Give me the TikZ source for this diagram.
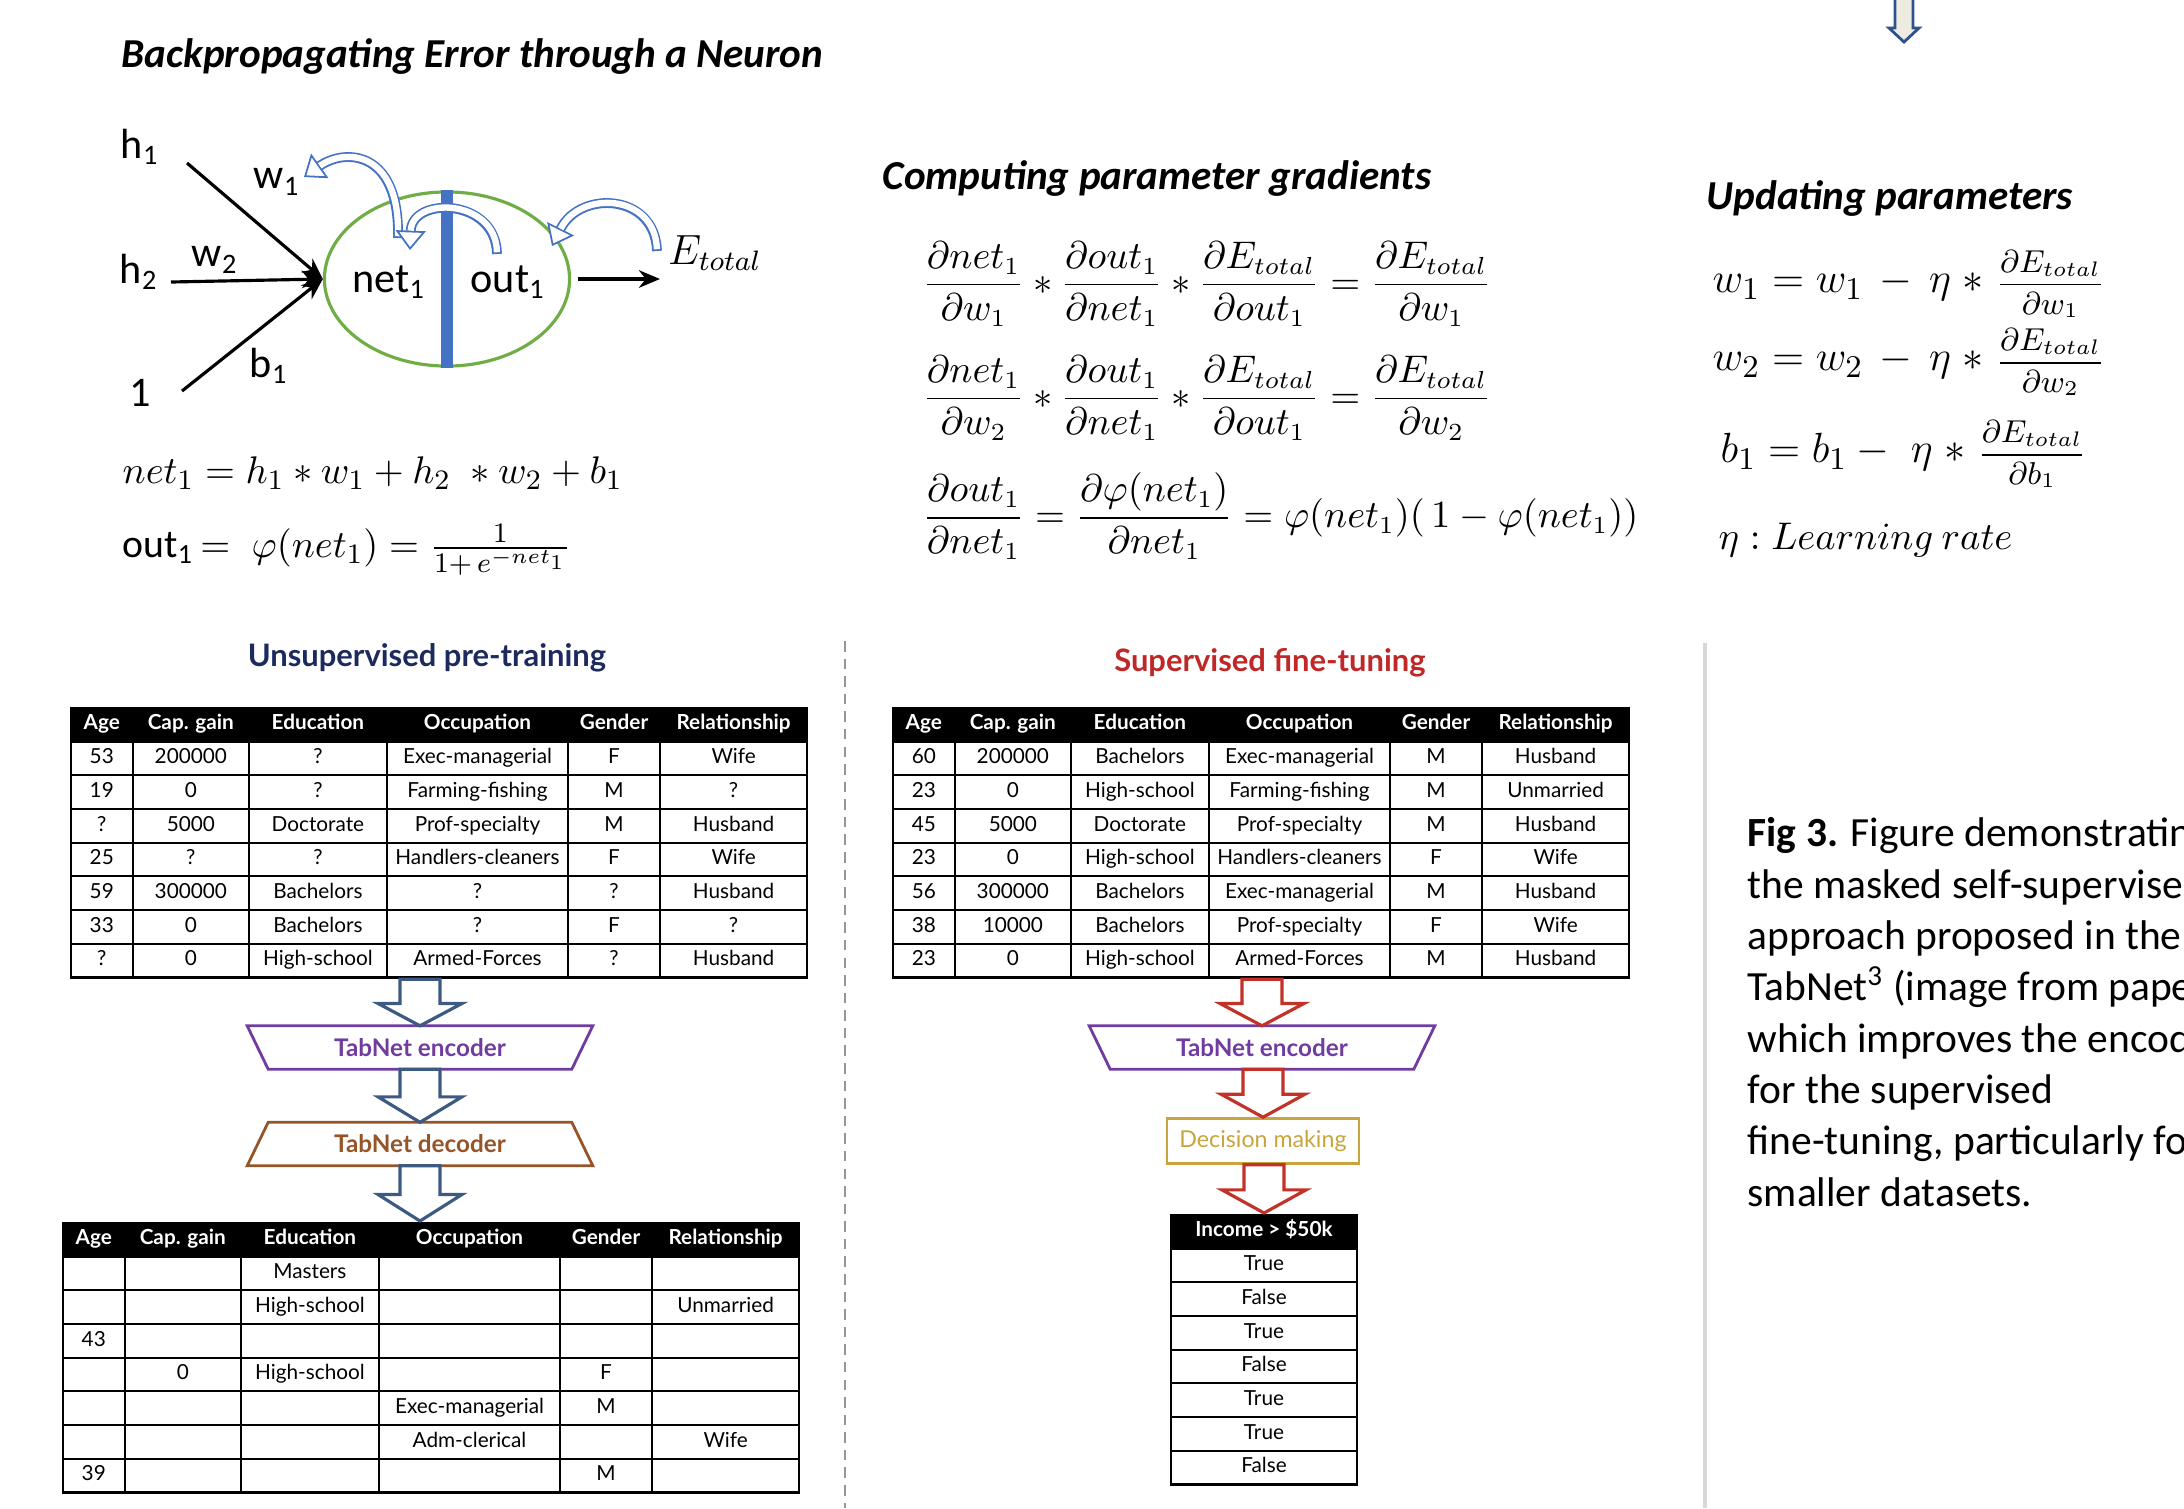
\documentclass[tikz,border=0pt]{standalone}
\usepackage[no-math]{fontspec}
\setmainfont{Carlito}
\newfontfamily\avfont{Lato}
\usepackage{amsmath}
\usepackage{xcolor}
\usepackage{tikz}
\usetikzlibrary{
  arrows.meta,
  positioning,
  calc,
  matrix,
  shapes.geometric
}

\definecolor{arcblue}{RGB}{68,114,196}
\definecolor{ringgreen}{RGB}{112,173,71}
\definecolor{navytitle}{RGB}{28,42,94}
\definecolor{redtitle}{RGB}{192,40,40}
\definecolor{encpurple}{RGB}{112,60,160}
\definecolor{decbrown}{RGB}{150,85,40}
\definecolor{decgold}{RGB}{200,165,60}
\definecolor{slateblue}{RGB}{60,90,130}
\definecolor{arrowred}{RGB}{195,50,40}
\definecolor{topfill}{RGB}{238,236,225}
\definecolor{topline}{RGB}{47,82,143}
\definecolor{sepgrey}{RGB}{150,150,150}
\definecolor{rulegrey}{RGB}{215,215,215}

\newcommand{\lblsize}{\fontsize{12}{14}\selectfont}
\newcommand{\headsize}{\fontsize{11.7}{14}\selectfont}
\newcommand{\eqsize}{\fontsize{10.6}{13}\selectfont}
\newcommand{\tabsize}{\fontsize{5.9}{7}\selectfont}
\newcommand{\smallfrac}[2]{\mbox{\fontsize{8.6}{10}\selectfont$\dfrac{#1}{#2}$}}

% hollow block arrow from node #1 down to node #2
\newcommand{\blockarrow}[3]{%
  \coordinate (bas) at (#2 |- #1);
  \coordinate (bam) at ($(bas)!0.52!(#2)$);
  \draw[blockarr=#3] ($(bas)+(-20,0)$) -- ($(bam)+(-20,0)$) -- ($(bam)+(-42,0)$)
    -- (#2) -- ($(bam)+(42,0)$) -- ($(bam)+(20,0)$) -- ($(bas)+(20,0)$) -- cycle;}

\begin{document}
\begin{tikzpicture}[
    x=0.01cm, y=-0.01cm,
    lbl/.style={font=\lblsize, inner sep=1pt},
    title/.style={font=\headsize\bfseries\itshape, anchor=west, inner sep=0pt},
    eq/.style={font=\eqsize, anchor=west, inner sep=0pt},
    inarrow/.style={line width=0.9pt, -{Stealth[length=6pt, width=5pt]}},
    hollowarc/.style={draw=arcblue, line width=2.8pt,
      -{Triangle[length=5.5pt, width=8.5pt, fill=white, line width=0.5pt]},
      postaction={draw=white, line width=1.8pt, -, shorten >=5.5pt, shorten <=0.5pt}},
    cellbox/.style={draw, line width=0.6pt, inner sep=0.5pt, minimum height=0.337cm,
      text height=4.2pt, text depth=1.2pt, anchor=center, font=\avfont\tabsize},
    headrow/.style={nodes={fill=black, text=white, font=\avfont\bfseries\tabsize}},
    datatable/.style={matrix of nodes, nodes in empty cells, inner sep=0pt,
      column sep=-0.6pt, row sep=-0.6pt, nodes={cellbox},
      column 1/.style={nodes={minimum width=0.62cm}},
      column 2/.style={nodes={minimum width=1.16cm}},
      column 3/.style={nodes={minimum width=1.38cm}},
      column 4/.style={nodes={minimum width=1.81cm}},
      column 5/.style={nodes={minimum width=0.92cm}},
      column 6/.style={nodes={minimum width=1.47cm}},
      row 1/.style={headrow}},
    blockarr/.style={draw=#1, fill=white, line width=0.9pt},
    stagebox/.style={minimum width=3.44cm, minimum height=0.42cm, inner sep=0pt,
      font=\avfont\bfseries\fontsize{6.9}{8}\selectfont}
  ]
  \useasboundingbox (0,0) rectangle (2184,1508);

  % Titulos
  \node[title] (t1) at (121,57) {Backpropagating Error through a Neuron};
  \node[title] (t2) at (882,179) {Computing parameter gradients};
  \node[title] (t3) at (1706,199) {Updating parameters};

  % seta do topo
  \filldraw[fill=topfill, draw=topline, line width=0.8pt]
    (1895,0) -- (1895,28) -- (1889,28) -- (1904,42) -- (1919,28) -- (1913,28) -- (1913,0);

  % Neuronio
  \node[draw=ringgreen, line width=0.9pt, ellipse, minimum width=2.45cm,
        minimum height=1.74cm, inner sep=0pt] (neuron) at (447,279) {};
  \draw[arcblue, line width=3.2pt] (neuron.north) -- (neuron.south);
  \node[lbl] (net) at (389,282) {net\textsubscript{1}};
  \node[lbl] (out) at (508,282) {out\textsubscript{1}};

  \node[lbl] (h1) at (140,147) {h\textsubscript{1}};
  \node[lbl] (h2) at (139,272) {h\textsubscript{2}};
  \node[lbl] (one) at (140,393) {1};
  \node[lbl] (w1) at (277,182) {w\textsubscript{1}};
  \node[lbl] (w2) at (215,260) {w\textsubscript{2}};
  \node[lbl] (b1) at (269,366) {b\textsubscript{1}};
  \node[font=\fontsize{12}{14}\selectfont] (etot) at (715,253) {$E_{total}$};

  \coordinate (h1s) at (187,163);
  \coordinate (h2s) at (171,282);
  \coordinate (ones) at (182,391);
  \foreach \s in {h1s,h2s,ones}
    \draw[inarrow] (\s) -- (neuron.west);
  \coordinate (outend) at (660,279);
  \draw[inarrow, shorten <=0.7mm] (neuron.east) -- (outend);

  % setas de retorno
  \coordinate (ra) at (398,238);
  \coordinate (rb) at (304,177);
  \draw[hollowarc] (ra) .. controls (400,150) and (345,148) .. (rb);
  \coordinate (rc) at (497,254);
  \coordinate (rd) at (410,250);
  \draw[hollowarc] (rc) .. controls (496,198) and (412,196) .. (rd);
  \coordinate (re) at (657,251);
  \coordinate (rf) at (552,246);
  \draw[hollowarc] (re) .. controls (655,193) and (580,190) .. (rf);

  % Equacoes do neuronio
  \node[eq, font=\fontsize{11.3}{13}\selectfont] (neteq) at (122,473) {$net_1 = h_1 \ast w_1 + h_2 \;\ast w_2 + b_1$};
  \node[eq, font=\fontsize{11.3}{13}\selectfont] (outeq) at (122,550) {out\textsubscript{1}\,$= \;\varphi(net_1) = \tfrac{1}{1+\,e^{-net_1}}$};

  % Gradientes
  \node[eq] (g1) at (922,284) {$\dfrac{\partial net_1}{\partial w_1} \ast \dfrac{\partial out_1}{\partial net_1} \ast \dfrac{\partial E_{total}}{\partial out_1} = \dfrac{\partial E_{total}}{\partial w_1}$};
  \node[eq] (g2) at (922,398) {$\dfrac{\partial net_1}{\partial w_2} \ast \dfrac{\partial out_1}{\partial net_1} \ast \dfrac{\partial E_{total}}{\partial out_1} = \dfrac{\partial E_{total}}{\partial w_2}$};
  \node[eq] (g3) at (922,516) {$\dfrac{\partial out_1}{\partial net_1} = \dfrac{\partial \varphi(net_1)}{\partial net_1} = \varphi(net_1)(\,1 - \varphi(net_1))$};

  % Atualizacao
  \node[eq, font=\fontsize{12.5}{15}\selectfont] (u1) at (1712,284) {$w_1 = w_1 \,-\, \eta\;\ast$\;\smallfrac{\partial E_{total}}{\partial w_1}};
  \node[eq, font=\fontsize{12.5}{15}\selectfont] (u2) at (1712,362) {$w_2 = w_2 \,-\, \eta\;\ast$\;\smallfrac{\partial E_{total}}{\partial w_2}};
  \node[eq, font=\fontsize{12.5}{15}\selectfont] (u3) at (1720,454) {$b_1 = b_1 - \;\eta\;\ast$\;\smallfrac{\partial E_{total}}{\partial b_1}};
  \node[eq, font=\fontsize{10.6}{13}\selectfont] (lr) at (1718,540) {$\eta : Learning\ rate$};

  % Separadores
  \draw[sepgrey, line width=0.6pt, dash pattern=on 3pt off 2pt] (845,641) -- (845,1508);
  \draw[rulegrey, line width=1pt] (1705,643) -- (1705,1508);

  % Pre-treino
  \node[font=\avfont\bfseries\fontsize{8.8}{10}\selectfont, text=navytitle] (unsup) at (427,658) {Unsupervised pre-training};
  \matrix (tabin) [datatable, anchor=north west] at (69,706) {
    Age & Cap. gain & Education & Occupation & Gender & Relationship \\
    53 & 200000 & ? & Exec-managerial & F & Wife \\
    19 & 0 & ? & Farming-fishing & M & ? \\
    ? & 5000 & Doctorate & Prof-specialty & M & Husband \\
    25 & ? & ? & Handlers-cleaners & F & Wife \\
    59 & 300000 & Bachelors & ? & ? & Husband \\
    33 & 0 & Bachelors & ? & F & ? \\
    ? & 0 & High-school & Armed-Forces & ? & Husband \\
  };
  \node[stagebox, text=encpurple] (encl) at (420,1047.5) {TabNet encoder};
  \draw[encpurple, line width=0.8pt] (encl.north west) -- (encl.north east)
    -- ($(encl.south east)+(-21,0)$) -- ($(encl.south west)+(21,0)$) -- cycle;
  \node[stagebox, text=decbrown] (decl) at (420,1144) {TabNet decoder};
  \draw[decbrown, line width=0.8pt] ($(decl.north west)+(21,0)$) -- ($(decl.north east)+(-21,0)$)
    -- (decl.south east) -- (decl.south west) -- cycle;
  \matrix (tabout) [datatable, anchor=north west] at (61,1221) {
    Age & Cap. gain & Education & Occupation & Gender & Relationship \\
     & & Masters & & & \\
     & & High-school & & & Unmarried \\
    43 & & & & & \\
     & 0 & High-school & & F & \\
     & & & Exec-managerial & M & \\
     & & & Adm-clerical & & Wife \\
    39 & & & & M & \\
  };
  \coordinate (outtop) at (tabout.north -| decl.south);
  \blockarrow{tabin.south}{encl.north}{slateblue}
  \blockarrow{encl.south}{decl.north}{slateblue}
  \blockarrow{decl.south}{outtop}{slateblue}

  % Ajuste fino
  \node[font=\avfont\bfseries\fontsize{8.8}{10}\selectfont, text=redtitle] (sup) at (1270,663) {Supervised fine-tuning};
  \matrix (tabsup) [datatable, anchor=north west] at (891,706) {
    Age & Cap. gain & Education & Occupation & Gender & Relationship \\
    60 & 200000 & Bachelors & Exec-managerial & M & Husband \\
    23 & 0 & High-school & Farming-fishing & M & Unmarried \\
    45 & 5000 & Doctorate & Prof-specialty & M & Husband \\
    23 & 0 & High-school & Handlers-cleaners & F & Wife \\
    56 & 300000 & Bachelors & Exec-managerial & M & Husband \\
    38 & 10000 & Bachelors & Prof-specialty & F & Wife \\
    23 & 0 & High-school & Armed-Forces & M & Husband \\
  };
  \node[stagebox, text=encpurple] (encr) at (1262,1047.5) {TabNet encoder};
  \draw[encpurple, line width=0.8pt] (encr.north west) -- (encr.north east)
    -- ($(encr.south east)+(-21,0)$) -- ($(encr.south west)+(21,0)$) -- cycle;
  \node[draw=decgold, line width=0.8pt, text=decgold, minimum width=1.92cm, minimum height=0.38cm,
        font=\avfont\fontsize{6.6}{7.5}\selectfont] (decide) at (1263,1141) {Decision making};
  \matrix (income) [matrix of nodes, inner sep=0pt, row sep=-0.6pt, nodes={cellbox, minimum width=1.86cm},
        row 1/.style={headrow}, anchor=north] at (1264,1213) {
    Income > \$50k \\ True \\ False \\ True \\ False \\ True \\ True \\ False \\
  };
  \blockarrow{tabsup.south}{encr.north}{arrowred}
  \blockarrow{encr.south}{decide.north}{arrowred}
  \blockarrow{decide.south}{income.north}{arrowred}

  % Legenda
  \begin{scope}
    \clip (1710,760) rectangle (2184,1260);
    \node[anchor=north west, align=left, inner sep=0pt, font=\fontsize{11.8}{14.6}\selectfont]
      (caption) at (1747,817) {\textbf{Fig 3.} Figure demonstrating\\the masked self-supervised\\approach proposed in the\\TabNet\textsuperscript{3} (image from paper)\\which improves the encoder\\for the supervised\\fine-tuning, particularly for\\smaller datasets.};
  \end{scope}
\end{tikzpicture}
\end{document}
